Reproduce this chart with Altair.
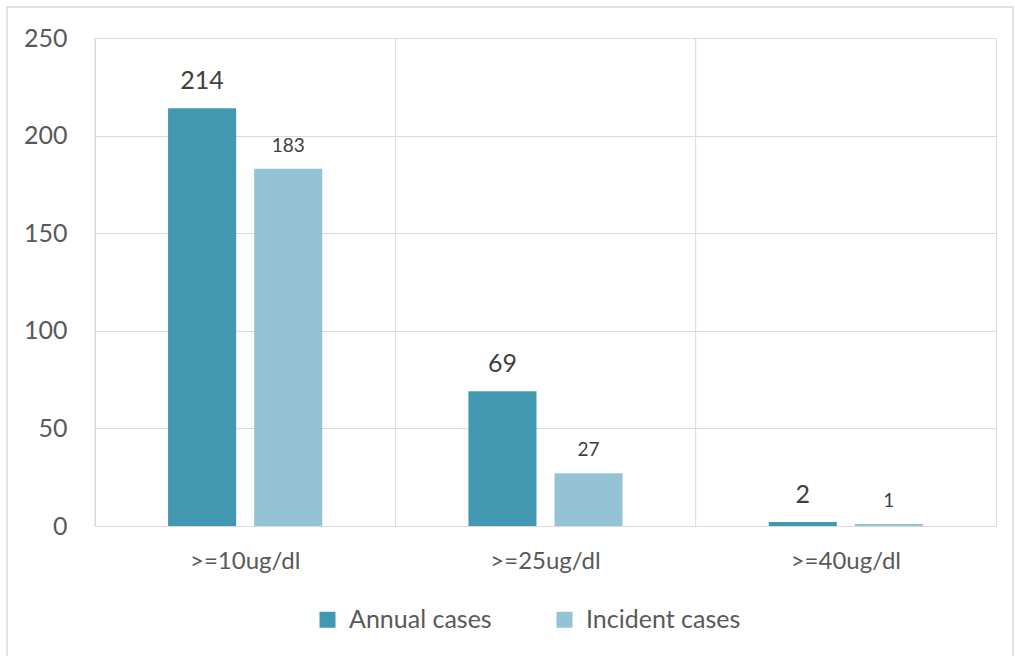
import altair as alt
import pandas as pd

categories = [">=10ug/dl", ">=25ug/dl", ">=40ug/dl"]
series = ["Annual cases", "Incident cases"]
annual = [214, 69, 2]
incident = [183, 27, 1]
colors = ["#4298B0", "#93C3D4"]

rows = []
for c, a, i in zip(categories, annual, incident):
    rows.append({"cat": c, "series": series[0], "value": a})
    rows.append({"cat": c, "series": series[1], "value": i})
df = pd.DataFrame(rows)
cat_df = pd.DataFrame({"cat": categories})

FONT = "Lato"
TXT = "#595959"
GRID = "#D9D9D9"

x_enc = alt.X("cat:N", sort=categories,
              scale=alt.Scale(paddingInner=0, paddingOuter=0),
              axis=alt.Axis(title=None, labelAngle=0, labelAlign="center", labelFontSize=24,
                            labelColor=TXT, labelFont=FONT, labelPadding=35, domain=False,
                            ticks=False, grid=False, bandPosition=0.5))
xoff = alt.XOffset("series:N", sort=series,
                   scale=alt.Scale(paddingInner=0.2093, paddingOuter=0.8488))
y_enc = alt.Y("value:Q", scale=alt.Scale(domain=[0, 250], nice=False),
              axis=alt.Axis(title=None, values=[0, 50, 100, 150, 200, 250], labelFontSize=25,
                            labelColor=TXT, labelFont=FONT, labelPadding=28, domain=False,
                            ticks=False, grid=True, gridColor=GRID, gridWidth=1))
color = alt.Color("series:N", sort=series, scale=alt.Scale(domain=series, range=colors),
                  legend=alt.Legend(title=None, orient="none", direction="horizontal",
                                    legendX=220, legendY=569, symbolType="square",
                                    symbolSize=256, symbolStrokeWidth=0, labelFontSize=25,
                                    labelFont=FONT, labelColor=TXT, columnPadding=60,
                                    labelOffset=9))

base = alt.Chart(df)

rules = alt.Chart(cat_df).mark_rule(color=GRID, strokeWidth=1).encode(
    x=alt.X("cat:N", sort=categories, bandPosition=0)
)

bars = base.mark_bar().encode(x=x_enc, xOffset=xoff, y=y_enc, color=color)

lab_a = base.transform_filter(alt.datum.series == series[0]).mark_text(
    font=FONT, fontSize=25, color="#404040", baseline="alphabetic", dy=-19
).encode(x=x_enc, xOffset=xoff, y=y_enc, text="value:Q")

lab_i = base.transform_filter(alt.datum.series == series[1]).mark_text(
    font=FONT, fontSize=19, color="#404040", baseline="alphabetic", dy=-17
).encode(x=x_enc, xOffset=xoff, y=y_enc, text="value:Q")

frame = alt.Chart(alt.Data(values=[{}])).mark_rect(
    fillOpacity=0, stroke=GRID, strokeWidth=1.5
).encode(x=alt.value(-88), x2=alt.value(918), y=alt.value(-31), y2=alt.value(640))

chart = alt.layer(rules, bars, lab_a, lab_i, frame).resolve_scale(x="shared").properties(
    width=901, height=488,
    autosize=alt.AutoSizeParams(type="none"),
    padding={"left": 95, "top": 38, "right": 19, "bottom": 130},
    background="white",
).configure_view(stroke=GRID, strokeWidth=1)

chart.save("out.html", embed_options={"renderer": "svg", "actions": False})
